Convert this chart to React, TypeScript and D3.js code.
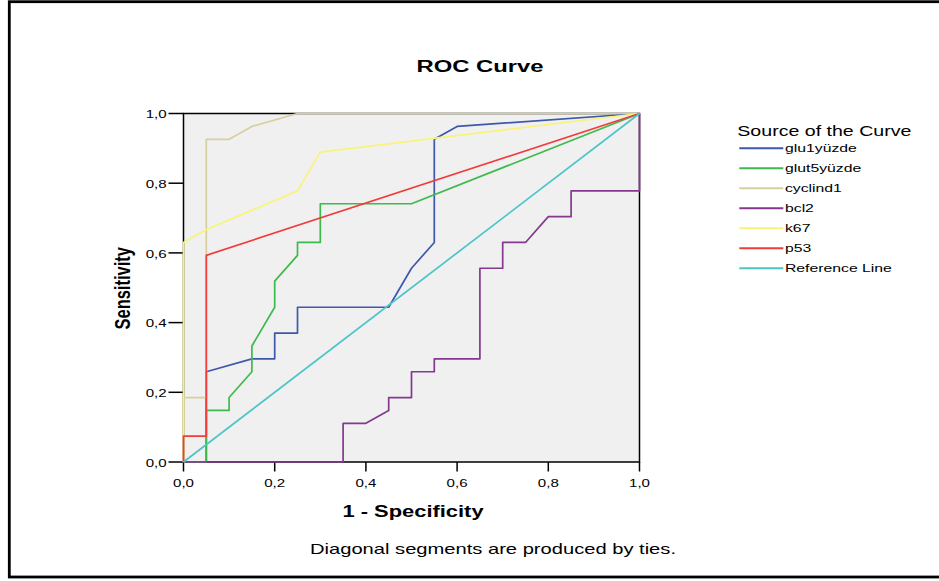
import React, { useEffect, useRef } from "react";
import * as d3 from "d3";

// ROC curves (x = 1 - specificity, y = sensitivity)
const glu1X = [0, 0.05, 0.05, 0.15, 0.2, 0.2, 0.25, 0.25, 0.45, 0.5, 0.55, 0.55, 0.6, 1];
const glu1Y = [0, 0, 0.259, 0.296, 0.296, 0.37, 0.37, 0.444, 0.444, 0.556, 0.63, 0.926, 0.963, 1];

const glut5X = [0, 0.05, 0.05, 0.1, 0.1, 0.15, 0.15, 0.2, 0.2, 0.25, 0.25, 0.3, 0.3, 0.5, 1];
const glut5Y = [0, 0, 0.148, 0.148, 0.185, 0.259, 0.333, 0.444, 0.519, 0.593, 0.63, 0.63, 0.741, 0.741, 1];

const cyclinX = [0, 0, 0.05, 0.05, 0.1, 0.15, 0.25, 1];
const cyclinY = [0, 0.185, 0.185, 0.926, 0.926, 0.963, 1, 1];

const bcl2X = [0, 0.35, 0.35, 0.4, 0.45, 0.45, 0.5, 0.5, 0.55, 0.55, 0.65, 0.65, 0.7, 0.7, 0.75, 0.8, 0.85, 0.85, 1, 1];
const bcl2Y = [0, 0, 0.111, 0.111, 0.148, 0.185, 0.185, 0.259, 0.259, 0.296, 0.296, 0.556, 0.556, 0.63, 0.63, 0.704, 0.704, 0.778, 0.778, 1];

const k67X = [0, 0, 0.05, 0.25, 0.3, 1];
const k67Y = [0, 0.63, 0.667, 0.778, 0.889, 1];

const p53X = [0, 0, 0.05, 0.05, 1];
const p53Y = [0, 0.074, 0.074, 0.593, 1];

const refX = [0, 1];
const refY = [0, 1];

const seriesNames = ["glu1yüzde", "glut5yüzde", "cyclind1", "bcl2", "k67", "p53", "Reference Line"];
const seriesColors = ["#3e58ab", "#3dba4b", "#d8cf9f", "#84398f", "#f9f37a", "#f03c3c", "#4cc4c8"];
const ticks = [0, 0.2, 0.4, 0.6, 0.8, 1.0];

const FONT = "'Liberation Sans', Arial, sans-serif";
const SX = 1.37; // the whole picture is stretched sideways

const App = () => {
  const ref = useRef<SVGSVGElement>(null);

  useEffect(() => {
    const svg = d3.select(ref.current);
    svg.selectAll("*").remove();

    const x = d3.scaleLinear().domain([0, 1]).range([183.5, 639.5]);
    const y = d3.scaleLinear().domain([0, 1]).range([462, 113.5]);
    const fmt = (v: number) => d3.format(".1f")(v).replace(".", ",");

    const text = (
      str: string,
      tx: number,
      ty: number,
      size: number,
      opts: { bold?: boolean; anchor?: string; rotate?: boolean } = {}
    ) =>
      svg
        .append("text")
        .attr("transform", `translate(${tx},${ty}) scale(${SX},1)${opts.rotate ? " rotate(-90)" : ""}`)
        .attr("font-family", FONT)
        .attr("font-size", size)
        .attr("font-weight", opts.bold ? "bold" : "normal")
        .attr("text-anchor", opts.anchor || "start")
        .attr("fill", "#000")
        .text(str);

    // outer frame
    svg
      .append("rect")
      .attr("x", 9.3)
      .attr("y", 1.7)
      .attr("width", 960)
      .attr("height", 575.3)
      .attr("fill", "#fff")
      .attr("stroke", "#000")
      .attr("stroke-width", 2.8);

    text("ROC Curve", 480, 72, 17.4, { bold: true, anchor: "middle" });

    // plot background
    svg
      .append("rect")
      .attr("x", x(0))
      .attr("y", y(1))
      .attr("width", x(1) - x(0))
      .attr("height", y(0) - y(1))
      .attr("fill", "#f0f0f0")
      .attr("stroke", "#000")
      .attr("stroke-width", 1.5);

    // x axis ticks
    const gx = svg.append("g");
    ticks.forEach((t) => {
      gx.append("line")
        .attr("x1", x(t))
        .attr("x2", x(t))
        .attr("y1", y(0))
        .attr("y2", y(0) + 9.5)
        .attr("stroke", "#000")
        .attr("stroke-width", 1.5);
      text(fmt(t), x(t), 486.7, 11, { anchor: "middle" });
    });

    // y axis ticks
    const gy = svg.append("g");
    ticks.forEach((t) => {
      gy.append("line")
        .attr("x1", x(0) - 15)
        .attr("x2", x(0))
        .attr("y1", y(t))
        .attr("y2", y(t))
        .attr("stroke", "#000")
        .attr("stroke-width", 1.5);
      text(fmt(t), 166.7, y(t) + 4.8, 11, { anchor: "end" });
    });

    text("1 - Specificity", 413, 516.7, 16, { bold: true, anchor: "middle" });
    text("Sensitivity", 129.5, 288.3, 16.5, { bold: true, anchor: "middle", rotate: true });

    // curves, drawn in legend order
    const curves = [
      [glu1X, glu1Y],
      [glut5X, glut5Y],
      [cyclinX, cyclinY],
      [bcl2X, bcl2Y],
      [k67X, k67Y],
      [p53X, p53Y],
      [refX, refY],
    ];
    const path = d3
      .line<[number, number]>()
      .x((d) => x(d[0]))
      .y((d) => y(d[1]));

    curves.forEach(([xs, ys], k) => {
      const pts = xs.map((v, i) => [v, ys[i]] as [number, number]);
      svg
        .append("path")
        .attr("d", path(pts))
        .attr("fill", "none")
        .attr("stroke", seriesColors[k])
        .attr("stroke-width", 1.7)
        .attr("stroke-linejoin", "round");
    });

    // legend
    text("Source of the Curve", 737.3, 135.7, 14.3);
    seriesNames.forEach((name, i) => {
      const ly = 148.3 + i * 20;
      svg
        .append("line")
        .attr("x1", 739.3)
        .attr("x2", 783.3)
        .attr("y1", ly)
        .attr("y2", ly)
        .attr("stroke", seriesColors[i])
        .attr("stroke-width", 2);
      text(name, 785, ly + 4, 11.5);
    });

    text("Diagonal segments are produced by ties.", 493, 554, 14.7, { anchor: "middle" });
  }, []);

  return (
    <svg
      ref={ref}
      width={939}
      height={581}
      style={{ position: "absolute", left: 0, top: 0, display: "block" }}
    ></svg>
  );
};

export default App;
